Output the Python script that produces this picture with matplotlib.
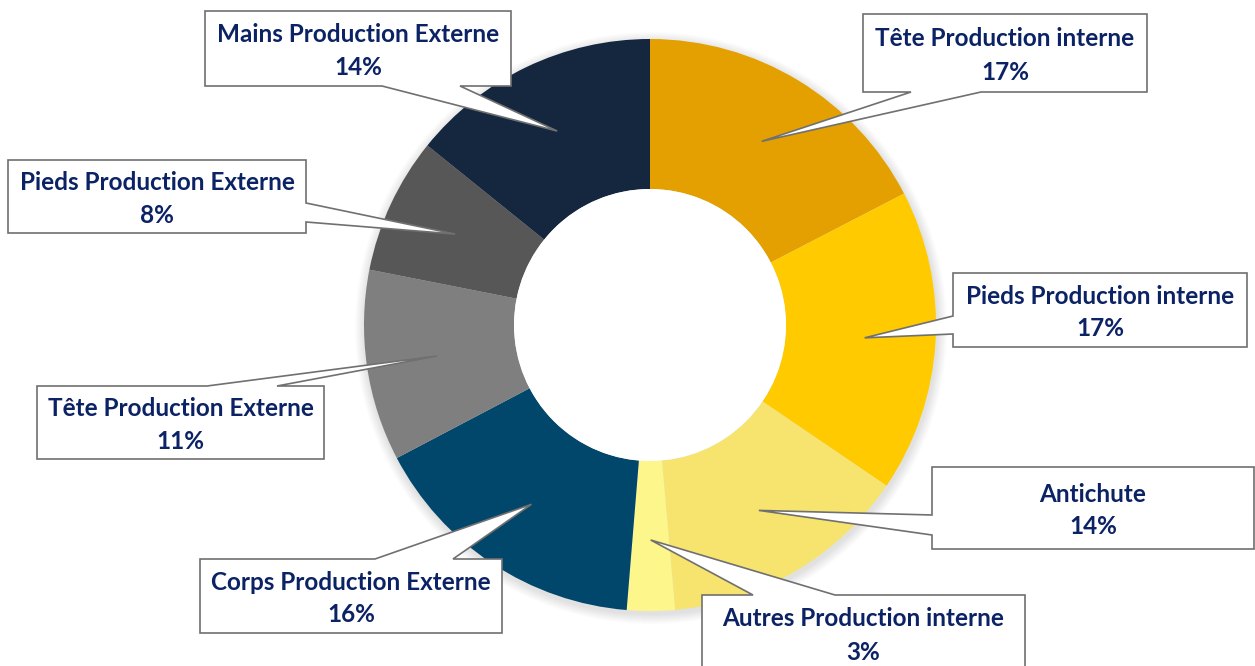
import matplotlib
matplotlib.use('Agg')
import matplotlib.pyplot as plt
from matplotlib.patches import Polygon, Circle
import numpy as np

# Data (clockwise from the top)
labels = ['Tête Production interne', 'Pieds Production interne', 'Antichute',
          'Autres Production interne', 'Corps Production Externe',
          'Tête Production Externe', 'Pieds Production Externe',
          'Mains Production Externe']
values = [17.4, 17.1, 14.1, 2.7, 16.0, 10.8, 7.7, 14.2]
colors = ['#E3A000', '#FFCA00', '#F7E46E', '#FDF68A', '#00476B',
          '#7F7F7F', '#575757', '#14273E']

# Callout boxes, pixel coords (left, top, right, bottom), side of the pointer, base of the pointer
boxes = [
    ((863, 14, 1147, 92), 'bottom', (911, 981)),
    ((953, 273, 1247, 347), 'left', (316, 334)),
    ((932, 467, 1254, 549), 'left', (515, 535)),
    ((702, 595, 1025, 700), 'top', (753, 835)),
    ((200, 559, 502, 633), 'top', (375, 453)),
    ((37, 386, 324, 459), 'top', (207, 277)),
    ((8, 160, 306, 233), 'right', (203, 222)),
    ((205, 11, 511, 86), 'bottom', (382, 460)),
]

W, H = 1255, 666
cx, cy = 650, H - 325
r_out, ring = 286, 150

fig = plt.figure(figsize=(W / 100, H / 100), dpi=100)
ax = fig.add_axes([0, 0, 1, 1])

# soft shadow round the ring
for i in range(10):
    ax.add_patch(Circle((cx + 1, cy - 3), r_out + 10 - i, color='black', alpha=0.012, lw=0, zorder=0))

ax.pie(values, colors=colors, startangle=90, counterclock=False, radius=r_out,
       center=(cx, cy), wedgeprops=dict(width=ring, linewidth=0))
ax.add_patch(Circle((cx, cy), r_out - ring, color='white', lw=0, zorder=1))

# pointer tips: middle of each wedge
total = sum(values)
cum = np.cumsum(values) - np.array(values) / 2
theta = np.radians(90 - 360 * cum / total)
r_tip = r_out - ring / 2 + 4
tips = [(cx + r_tip * np.cos(t), cy + r_tip * np.sin(t)) for t in theta]


def callout(box, side, base, tip):
    l, t, r, b = box
    a1, a2 = base
    tx, ty = tip[0], H - tip[1]  # back to pixel coords
    if side == 'top':
        pts = [(l, t), (a1, t), (tx, ty), (a2, t), (r, t), (r, b), (l, b)]
    elif side == 'right':
        pts = [(l, t), (r, t), (r, a1), (tx, ty), (r, a2), (r, b), (l, b)]
    elif side == 'bottom':
        pts = [(l, t), (r, t), (r, b), (a2, b), (tx, ty), (a1, b), (l, b)]
    else:
        pts = [(l, t), (r, t), (r, b), (l, b), (l, a2), (tx, ty), (l, a1)]
    return [(x, H - y) for x, y in pts]


for lab, v, (box, side, base), tip in zip(labels, values, boxes, tips):
    poly = Polygon(callout(box, side, base, tip), closed=True, facecolor='white',
                   edgecolor='#707070', lw=1.2, zorder=5)
    ax.add_patch(poly)
    l, t, r, b = box
    if b > H:
        b = t + 76
    xm = (l + r) / 2
    ym = H - (t + b) / 2
    ax.text(xm, ym + 14, lab, ha='center', va='center', fontsize=17.5, fontweight='bold',
            family='Lato', color='#0B2265', zorder=6)
    ax.text(xm, ym - 19, '{:.0f}%'.format(v), ha='center', va='center', fontsize=17.5,
            fontweight='bold', family='Lato', color='#0B2265', zorder=6)

ax.set_xlim(0, W)
ax.set_ylim(0, H)
ax.set_aspect('auto')
ax.axis('off')
fig.savefig('out.png', dpi=100)
